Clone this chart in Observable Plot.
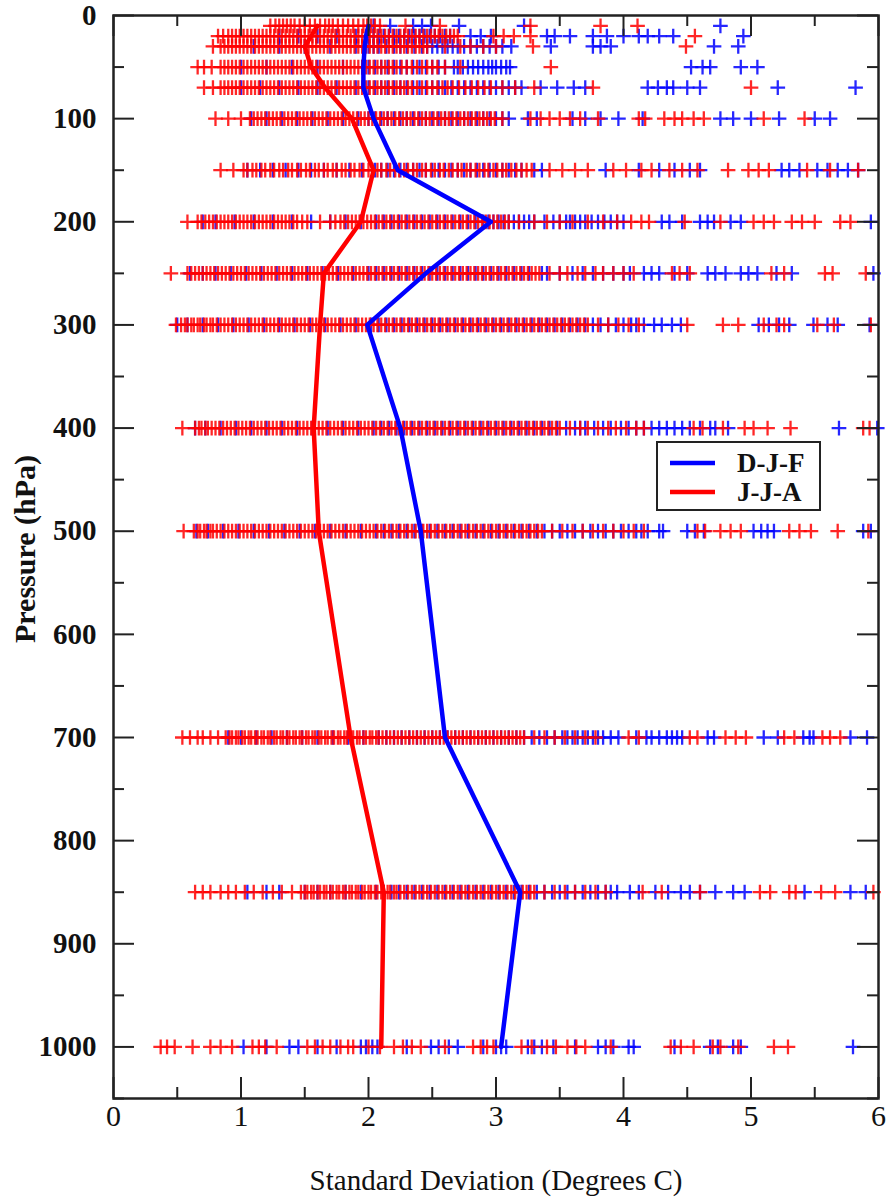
<!DOCTYPE html>
<html><head><meta charset="utf-8">
<script src="https://cdn.jsdelivr.net/npm/d3@7"></script>
<script src="https://cdn.jsdelivr.net/npm/@observablehq/plot@0.6"></script>
<style>body{margin:0;background:#fff} #chart{width:888px;height:1204px}</style>
</head><body><div id="chart"></div>
<script>
const levels = [10, 20, 30, 50, 70, 100, 150, 200, 250, 300, 400, 500, 700, 850, 1000];
const seriesNames = ["D-J-F", "J-J-A"];
const seriesColors = ["#0000ff", "#ff0000"];
const djfMean = [2.0, 1.98, 1.97, 1.96, 1.96, 2.04, 2.23, 2.96, 2.45, 1.99, 2.25, 2.41, 2.6, 3.19, 3.04];
const jjaMean = [1.6, 1.55, 1.5, 1.55, 1.66, 1.87, 2.04, 1.94, 1.65, 1.62, 1.57, 1.61, 1.86, 2.12, 2.10];
const xTicks = [0, 1, 2, 3, 4, 5, 6];
const xMinorTicks = [0.5, 1.5, 2.5, 3.5, 4.5, 5.5];
const yTicks = [0, 100, 200, 300, 400, 500, 600, 700, 800, 900, 1000];
const yMinorTicks = [50, 150, 250, 350, 450, 550, 650, 750, 850, 950, 1050];

// individual station standard deviations, one string per pressure level (same order as levels)
const djfScatter = [
  "2.04 2.17 2.35 2.42 2.49 2.71 3.22 4.76",
  "1.3 1.45 1.6 1.75 1.9 2.0 2.08 2.16 2.24 2.32 2.4 2.48 2.56 2.64 2.8 2.88 2.96 3.4 3.46 3.58 3.76 3.87 4.0 4.12 4.19 4.28 4.39 4.94",
  "1.1 1.3 1.5 1.7 1.9 2.0 2.08 2.2 2.3 2.42 2.5 2.58 2.66 2.75 2.85 2.95 3.05 3.12 3.43 3.76 3.82 3.9 4.71 4.9",
  "1.0 1.2 1.4 1.6 1.8 1.95 2.05 2.15 2.25 2.35 2.45 2.55 2.67 2.74 2.82 2.9 2.97 3.04 3.11 4.53 4.62 4.68 4.92 5.05",
  "1.0 1.15 1.3 1.45 1.6 1.75 1.9 2.0 2.1 2.2 2.3 2.4 2.5 2.6 2.7 2.8 2.9 3.0 3.1 3.2 3.35 3.48 3.61 3.7 4.19 4.27 4.34 4.39 4.5 4.6 5.21 5.82",
  "1.08 1.2 1.32 1.44 1.56 1.68 1.8 1.92 2.0 2.1 2.2 2.3 2.4 2.5 2.6 2.7 2.8 2.9 3.0 3.1 3.25 3.32 3.6 3.7 3.82 3.96 4.15 4.76 4.86 5.0 5.22 5.5 5.62",
  "1.05 1.15 1.25 1.35 1.45 1.55 1.65 1.75 1.85 1.95 2.05 2.15 2.25 2.35 2.45 2.55 2.65 2.75 2.85 2.95 3.05 3.15 3.3 3.36 3.86 4.12 4.28 4.4 4.52 4.6 5.24 5.3 5.38 5.52 5.6 5.68 5.76 5.84",
  "0.7 0.8 0.95 1.1 1.25 1.4 1.55 1.7 1.82 1.94 2.06 2.18 2.3 2.42 2.54 2.66 2.78 2.9 2.98 3.06 3.14 3.22 3.3 3.45 3.55 3.62 3.7 3.8 3.9 4.0 4.3 4.36 4.46 4.6 4.66 4.71 4.84 4.92 5.94",
  "0.6 0.7 0.8 0.92 1.04 1.16 1.28 1.4 1.52 1.64 1.76 1.88 2.0 2.12 2.24 2.36 2.48 2.6 2.72 2.84 2.96 3.08 3.2 3.36 3.4 3.6 3.76 4.05 4.16 4.22 4.28 4.4 4.5 4.66 4.72 4.8 4.92 4.98 5.05 5.2 5.32 5.96",
  "0.5 0.58 0.7 0.82 0.94 1.06 1.18 1.3 1.42 1.54 1.66 1.78 1.9 2.02 2.14 2.26 2.38 2.5 2.62 2.74 2.86 2.98 3.1 3.22 3.34 3.46 3.58 3.7 3.82 3.94 4.06 4.16 4.24 4.3 4.38 4.45 5.06 5.14 5.22 5.3 5.49 5.6 5.68 5.93",
  "0.64 0.72 0.84 0.96 1.08 1.2 1.32 1.44 1.56 1.68 1.8 1.92 2.04 2.16 2.28 2.4 2.52 2.64 2.76 2.88 3.0 3.12 3.24 3.36 3.48 3.62 3.7 3.84 3.98 4.1 4.22 4.28 4.34 4.4 4.46 4.52 4.6 4.68 4.72 4.82 5.69 5.99",
  "0.65 0.74 0.86 0.98 1.1 1.22 1.34 1.46 1.58 1.7 1.82 1.94 2.06 2.18 2.3 2.42 2.54 2.66 2.78 2.9 3.02 3.14 3.26 3.38 3.5 3.62 3.74 3.86 3.98 4.1 4.19 4.28 4.31 4.5 4.56 4.63 5.02 5.08 5.13 5.18 5.88 5.94",
  "0.9 1.0 1.12 1.24 1.36 1.48 1.6 1.72 1.84 1.96 2.08 2.2 2.32 2.44 2.56 2.68 2.8 2.92 3.04 3.16 3.28 3.4 3.52 3.6 3.68 3.76 3.84 3.9 3.96 4.1 4.18 4.22 4.28 4.34 4.38 4.42 4.46 4.66 4.71 5.1 5.21 5.41 5.46 5.49 5.78 5.91",
  "1.05 1.2 1.3 1.5 1.6 1.7 1.82 1.94 2.06 2.18 2.3 2.42 2.54 2.66 2.78 2.9 3.02 3.14 3.26 3.38 3.5 3.62 3.74 3.86 3.95 4.05 4.12 4.25 4.35 4.45 4.52 4.6 4.72 4.86 4.95 5.42 5.78 5.9",
  "1.02 1.2 1.38 1.45 1.6 1.75 1.94 1.98 2.03 2.07 2.3 2.49 2.55 2.63 2.7 2.9 3.0 3.04 3.08 3.25 3.3 3.36 3.45 3.62 3.8 3.86 3.92 4.04 4.08 4.4 4.68 4.74 4.86 4.92 5.8"
];
// further stations inside the densely packed parts of each D-J-F row
const djfDense = [
  "",
  "2.04 2.12 2.2 2.28 2.36 2.44 2.52 2.6",
  "2.04 2.14 2.25 2.36 2.46 2.54 2.62 2.7 2.8 2.9 3.0",
  "2.0 2.1 2.2 2.3 2.4 2.5 2.6 2.7 2.78 2.86 2.94 3.0 3.08",
  "2.05 2.15 2.25 2.35 2.45 2.55 2.65 2.75 2.85 2.95 3.05 3.15",
  "2.05 2.15 2.25 2.35 2.45 2.55 2.65 2.75 2.85 2.95 3.05",
  "2.1 2.2 2.3 2.4 2.5 2.6 2.7 2.8 2.9 3.0 3.1 3.2",
  "2.12 2.24 2.36 2.48 2.6 2.72 2.84 2.94 3.02 3.1 3.18 3.26 3.38 3.5 3.58 3.66 3.75 3.85 3.95",
  "2.06 2.18 2.3 2.42 2.54 2.66 2.78 2.9 3.02 3.14 3.26 3.5 3.68 3.84 3.92 4.0",
  "2.08 2.2 2.32 2.44 2.56 2.68 2.8 2.92 3.04 3.16 3.28 3.4 3.52 3.64 3.76 3.88 4.0 4.1",
  "2.1 2.22 2.34 2.46 2.58 2.7 2.82 2.94 3.06 3.18 3.3 3.42 3.55 3.66 3.77 3.9 4.04 4.16",
  "2.12 2.24 2.36 2.48 2.6 2.72 2.84 2.96 3.08 3.2 3.32 3.44 3.56 3.68 3.8 3.92 4.04 4.14",
  "2.14 2.26 2.38 2.5 2.62 2.74 2.86 2.98 3.1 3.22 3.34 3.46 3.56 3.64 3.72 3.8",
  "2.12 2.24 2.36 2.48 2.6 2.72 2.84 2.96 3.08 3.2 3.32 3.44 3.56 3.68 3.8 3.9",
  ""
];
const jjaScatter = [
  "1.23 1.3 1.36 1.42 1.5 1.58 1.66 1.72 1.8 1.88 1.96 2.02 2.09 2.29 2.56 3.27 3.82 4.11",
  "0.82 0.9 0.96 1.02 1.08 1.14 1.2 1.26 1.32 1.38 1.44 1.5 1.56 1.62 1.68 1.74 1.8 1.86 1.92 1.98 2.04 2.1 2.16 2.22 2.28 2.34 2.4 2.46 2.52 2.58 2.64 2.7 2.98 3.06 3.14 3.27 4.56",
  "0.78 0.84 0.9 0.96 1.02 1.08 1.14 1.2 1.26 1.32 1.38 1.44 1.5 1.56 1.62 1.68 1.74 1.8 1.86 1.92 1.98 2.04 2.1 2.16 2.22 2.28 2.34 2.4 2.46 2.6 2.72 2.8 2.9 3.0 3.29 4.49",
  "0.66 0.71 0.77 0.84 0.9 0.96 1.02 1.08 1.14 1.2 1.26 1.32 1.38 1.44 1.5 1.56 1.62 1.68 1.74 1.8 1.86 1.92 1.98 2.04 2.1 2.16 2.22 2.3 2.38 2.46 2.54 2.6 2.72 3.43",
  "0.71 0.78 0.84 0.9 0.96 1.02 1.08 1.14 1.2 1.26 1.32 1.38 1.44 1.5 1.56 1.62 1.68 1.74 1.8 1.86 1.92 1.98 2.04 2.1 2.16 2.22 2.28 2.34 2.42 2.5 2.58 2.66 2.76 2.86 2.96 3.05 3.15 3.3 3.76 5.0",
  "0.8 0.9 1.0 1.07 1.13 1.19 1.25 1.31 1.37 1.43 1.49 1.55 1.61 1.67 1.73 1.79 1.85 1.91 1.97 2.03 2.09 2.15 2.21 2.27 2.33 2.39 2.45 2.51 2.57 2.63 2.69 2.75 2.81 2.87 2.93 2.99 3.05 3.27 3.35 3.42 3.5 3.58 3.66 3.8 4.12 4.17 4.32 4.4 4.46 4.55 4.63 5.1 5.42",
  "0.84 0.94 1.02 1.09 1.16 1.23 1.3 1.37 1.44 1.51 1.58 1.65 1.72 1.79 1.86 1.93 2.0 2.07 2.14 2.21 2.28 2.35 2.42 2.49 2.56 2.63 2.7 2.77 2.84 2.91 2.98 3.05 3.12 3.2 3.28 3.42 3.52 3.62 3.72 3.92 4.02 4.14 4.22 4.36 4.46 4.58 4.82 4.98 5.06 5.14 5.44 5.62 5.84",
  "0.58 0.66 0.72 0.78 0.84 0.9 0.96 1.02 1.08 1.14 1.2 1.26 1.32 1.38 1.44 1.52 1.62 1.7 1.78 1.84 1.9 1.96 2.02 2.08 2.14 2.2 2.26 2.32 2.38 2.44 2.5 2.56 2.62 2.68 2.74 2.8 2.86 2.92 2.98 3.04 3.1 3.18 3.3 3.4 3.5 3.6 3.72 3.84 3.95 4.06 4.14 4.2 4.48 4.76 5.02 5.1 5.18 5.32 5.4 5.5 5.7 5.78",
  "0.45 0.58 0.64 0.7 0.76 0.82 0.88 0.94 1.0 1.06 1.12 1.18 1.24 1.3 1.36 1.42 1.48 1.54 1.6 1.66 1.72 1.78 1.84 1.9 1.96 2.02 2.08 2.14 2.2 2.26 2.32 2.38 2.44 2.5 2.56 2.62 2.68 2.74 2.8 2.86 2.92 2.98 3.04 3.1 3.16 3.22 3.28 3.34 3.42 3.5 3.56 3.64 3.7 3.78 3.84 3.92 4.0 4.08 4.38 4.44 4.52 5.16 5.26 5.58 5.64 5.9",
  "0.49 0.53 0.58 0.63 0.68 0.73 0.78 0.84 0.9 0.96 1.02 1.08 1.14 1.2 1.26 1.32 1.38 1.44 1.5 1.56 1.62 1.68 1.74 1.8 1.86 1.92 1.98 2.04 2.1 2.16 2.22 2.28 2.34 2.4 2.46 2.52 2.58 2.64 2.7 2.76 2.82 2.88 2.94 3.0 3.06 3.12 3.18 3.24 3.3 3.36 3.42 3.48 3.54 3.6 3.66 3.72 3.8 3.88 3.96 4.04 4.12 4.5 4.78 4.9 5.1 5.2 5.26 5.52 5.65 5.94",
  "0.54 0.64 0.69 0.74 0.8 0.86 0.92 0.98 1.04 1.1 1.16 1.22 1.28 1.34 1.4 1.46 1.52 1.58 1.64 1.7 1.76 1.82 1.88 1.94 2.0 2.06 2.12 2.18 2.24 2.3 2.36 2.42 2.48 2.54 2.6 2.66 2.72 2.78 2.84 2.9 2.96 3.02 3.08 3.14 3.2 3.26 3.32 3.38 3.44 3.5 3.58 3.66 3.72 3.8 3.88 3.94 4.02 4.1 4.16 4.55 4.62 4.78 4.95 5.02 5.13 5.31 5.88 5.93",
  "0.55 0.63 0.68 0.73 0.78 0.84 0.9 0.96 1.02 1.08 1.14 1.2 1.26 1.32 1.38 1.44 1.5 1.56 1.62 1.68 1.74 1.8 1.86 1.92 1.98 2.04 2.1 2.16 2.22 2.28 2.34 2.4 2.46 2.52 2.58 2.64 2.7 2.76 2.82 2.88 2.94 3.0 3.06 3.12 3.18 3.24 3.3 3.36 3.44 3.52 3.6 3.68 3.76 3.84 3.92 4.0 4.08 4.16 4.58 4.64 4.76 4.84 4.92 5.3 5.38 5.47 5.68 5.92",
  "0.54 0.6 0.66 0.7 0.76 0.82 0.88 0.93 0.98 1.03 1.08 1.13 1.18 1.23 1.28 1.33 1.38 1.43 1.48 1.53 1.58 1.63 1.68 1.73 1.78 1.83 1.88 1.93 1.98 2.03 2.08 2.14 2.2 2.26 2.32 2.38 2.44 2.5 2.56 2.62 2.68 2.74 2.8 2.86 2.92 2.98 3.04 3.1 3.16 3.22 3.3 3.38 3.46 3.54 3.62 3.7 3.78 4.04 4.12 4.52 4.58 4.8 4.88 4.96 5.26 5.34 5.56 5.62 5.7",
  "0.64 0.7 0.76 0.84 0.9 0.96 1.03 1.1 1.17 1.25 1.32 1.4 1.47 1.52 1.57 1.62 1.67 1.72 1.77 1.82 1.87 1.92 1.97 2.02 2.07 2.12 2.17 2.22 2.28 2.34 2.4 2.46 2.52 2.58 2.64 2.7 2.76 2.82 2.88 2.94 3.0 3.06 3.12 3.18 3.24 3.3 3.38 3.46 3.54 3.62 3.7 3.78 3.86 4.15 4.3 4.6 5.07 5.15 5.3 5.35 5.55 5.66 5.96",
  "0.37 0.42 0.48 0.62 0.76 0.84 0.93 1.09 1.14 1.19 1.28 1.52 1.58 1.64 1.7 1.78 1.84 1.88 2.0 2.09 2.2 2.27 2.34 2.41 2.6 2.82 2.88 2.93 2.98 3.2 3.28 3.4 3.47 3.56 3.63 3.7 3.9 4.37 4.45 4.55 4.7 4.76 4.9 5.18 5.29"
];
// further stations inside the densely packed parts of each J-J-A row
const jjaDense = [
  "1.27 1.33 1.39 1.46 1.54 1.62 1.69 1.76 1.84 1.92 1.99 2.05",
  "0.86 0.93 0.99 1.05 1.11 1.17 1.23 1.29 1.35 1.41 1.47 1.53 1.59 1.65 1.71 1.77 1.83 1.89 1.95 2.01 2.07 2.13 2.19 2.25 2.31 2.37 2.43 2.49 2.55 2.61 2.67",
  "0.87 0.93 0.99 1.05 1.11 1.17 1.23 1.29 1.35 1.41 1.47 1.53 1.59 1.65 1.71 1.77 1.83 1.89 1.95 2.01 2.07 2.13 2.19 2.25 2.31 2.37 2.43",
  "0.87 0.93 0.99 1.05 1.11 1.17 1.23 1.29 1.35 1.41 1.47 1.53 1.59 1.65 1.71 1.77 1.83 1.89 1.95 2.01 2.07 2.13 2.19 2.26 2.34 2.42 2.5",
  "0.87 0.93 0.99 1.05 1.11 1.17 1.23 1.29 1.35 1.41 1.47 1.53 1.59 1.65 1.71 1.77 1.83 1.89 1.95 2.01 2.07 2.13 2.19 2.25 2.31 2.38 2.46 2.54 2.62 2.71 2.81 2.91",
  "1.1 1.16 1.22 1.28 1.34 1.4 1.46 1.52 1.58 1.64 1.7 1.76 1.82 1.88 1.94 2.0 2.06 2.12 2.18 2.24 2.3 2.36 2.42 2.48 2.54 2.6 2.66 2.72 2.78 2.84 2.9 2.96",
  "1.05 1.12 1.19 1.26 1.33 1.4 1.47 1.54 1.61 1.68 1.75 1.82 1.89 1.96 2.03 2.1 2.17 2.24 2.31 2.38 2.45 2.52 2.59 2.66 2.73 2.8 2.87 2.94 3.01 3.08 3.16 3.24",
  "0.69 0.75 0.81 0.87 0.93 0.99 1.05 1.11 1.17 1.23 1.29 1.35 1.41 1.48 1.74 1.81 1.87 1.93 1.99 2.05 2.11 2.17 2.23 2.29 2.35 2.41 2.47 2.53 2.59 2.65 2.71 2.77 2.83 2.89 2.95 3.01 3.07",
  "0.61 0.67 0.73 0.79 0.85 0.91 0.97 1.03 1.09 1.15 1.21 1.27 1.33 1.39 1.45 1.51 1.57 1.63 1.69 1.75 1.81 1.87 1.93 1.99 2.05 2.11 2.17 2.23 2.29 2.35 2.41 2.47 2.53 2.59 2.65 2.71 2.77 2.83 2.89 2.95 3.01 3.07 3.13 3.19 3.25 3.31",
  "0.56 0.61 0.66 0.71 0.76 0.81 0.87 0.93 0.99 1.05 1.11 1.17 1.23 1.29 1.35 1.41 1.47 1.53 1.59 1.65 1.71 1.77 1.83 1.89 1.95 2.01 2.07 2.13 2.19 2.25 2.31 2.37 2.43 2.49 2.55 2.61 2.67 2.73 2.79 2.85 2.91 2.97 3.03 3.09 3.15 3.21 3.27 3.33 3.39 3.45 3.51 3.57 3.63 3.69",
  "0.67 0.72 0.77 0.83 0.89 0.95 1.01 1.07 1.13 1.19 1.25 1.31 1.37 1.43 1.49 1.55 1.61 1.67 1.73 1.79 1.85 1.91 1.97 2.03 2.09 2.15 2.21 2.27 2.33 2.39 2.45 2.51 2.57 2.63 2.69 2.75 2.81 2.87 2.93 2.99 3.05 3.11 3.17 3.23 3.29 3.35 3.41 3.47",
  "0.66 0.71 0.76 0.81 0.87 0.93 0.99 1.05 1.11 1.17 1.23 1.29 1.35 1.41 1.47 1.53 1.59 1.65 1.71 1.77 1.83 1.89 1.95 2.01 2.07 2.13 2.19 2.25 2.31 2.37 2.43 2.49 2.55 2.61 2.67 2.73 2.79 2.85 2.91 2.97 3.03 3.09 3.15 3.21 3.27 3.33",
  "0.91 0.96 1.01 1.06 1.11 1.16 1.21 1.26 1.31 1.36 1.41 1.46 1.51 1.56 1.61 1.66 1.71 1.76 1.81 1.86 1.91 1.96 2.01 2.06 2.11 2.17 2.23 2.29 2.35 2.41 2.47 2.53 2.59 2.65 2.71 2.77 2.83 2.89 2.95 3.01 3.07 3.13 3.19",
  "1.5 1.55 1.6 1.65 1.7 1.75 1.8 1.85 1.9 1.95 2.0 2.05 2.1 2.15 2.2 2.25 2.31 2.37 2.43 2.49 2.55 2.61 2.67 2.73 2.79 2.85 2.91 2.97 3.03 3.09 3.15 3.21 3.27",
  ""
];

const toPoints = (rows, extra) => levels.flatMap((p, i) =>
  (rows[i] + " " + extra[i]).trim().split(/\s+/).map(Number).map(v => ({p, v})));
const djfPts = toPoints(djfScatter, djfDense);
const jjaPts = toPoints(jjaScatter, jjaDense);
const djfLine = levels.map((p, i) => ({p, v: djfMean[i]}));
const jjaLine = levels.map((p, i) => ({p, v: jjaMean[i]}));

const W = 888, H = 1204, mL = 113, mR = 10, mT = 15, mB = 106;
const fw = W - mL - mR, fh = H - mT - mB;
const serif = "'Liberation Serif', 'DejaVu Serif', serif";
const axisColor = "#222";

const plot = Plot.plot({
  width: W, height: H,
  marginLeft: mL, marginRight: mR, marginTop: mT, marginBottom: mB,
  x: {domain: [0, 6]},
  y: {domain: [0, 1050], reverse: true},
  style: {background: "white", fontFamily: serif, color: "#111"},
  marks: [
    Plot.dot(djfPts, {x: "v", y: "p", symbol: "plus", r: 4.8, stroke: seriesColors[0], strokeWidth: 2.3, strokeOpacity: 0.85}),
    Plot.dot(jjaPts, {x: "v", y: "p", symbol: "plus", r: 4.8, stroke: seriesColors[1], strokeWidth: 2.3, strokeOpacity: 0.85}),
    Plot.line(jjaLine, {x: "v", y: "p", stroke: seriesColors[1], strokeWidth: 4.5}),
    Plot.line(djfLine, {x: "v", y: "p", stroke: seriesColors[0], strokeWidth: 4.5}),
    // inward ticks on all four sides
    Plot.tickX(xTicks, {x: d => d, insetTop: fh - 21, stroke: axisColor, strokeWidth: 2}),
    Plot.tickX(xTicks, {x: d => d, insetBottom: fh - 21, stroke: axisColor, strokeWidth: 2}),
    Plot.tickX(xMinorTicks, {x: d => d, insetTop: fh - 11, stroke: axisColor, strokeWidth: 2}),
    Plot.tickX(xMinorTicks, {x: d => d, insetBottom: fh - 11, stroke: axisColor, strokeWidth: 2}),
    Plot.tickY(yTicks, {y: d => d, insetRight: fw - 21, stroke: axisColor, strokeWidth: 2}),
    Plot.tickY(yTicks, {y: d => d, insetLeft: fw - 21, stroke: axisColor, strokeWidth: 2}),
    Plot.tickY(yMinorTicks, {y: d => d, insetRight: fw - 11, stroke: axisColor, strokeWidth: 2}),
    Plot.tickY(yMinorTicks, {y: d => d, insetLeft: fw - 11, stroke: axisColor, strokeWidth: 2}),
    Plot.frame({stroke: axisColor, strokeWidth: 2.5}),
    Plot.axisX({ticks: xTicks, tickSize: 0, tickPadding: 6, fontSize: 30, label: null, tickFormat: d => String(d)}),
    Plot.axisY({ticks: yTicks, tickSize: 0, tickPadding: 17, fontSize: 29, fontWeight: "bold", label: null, tickFormat: d => String(d)}),
    Plot.text(["Standard Deviation (Degrees C)"], {text: d => d, frameAnchor: "bottom", dy: 91, fontSize: 29}),
    Plot.text(["Pressure (hPa)"], {text: d => d, frameAnchor: "left", textAnchor: "middle", dx: -88, dy: -8, rotate: -90, fontSize: 30, fontWeight: "bold"})
  ]
});

// legend inside the plot area
const svg = d3.select(plot);
const lg = svg.append("g").attr("font-family", serif).attr("text-anchor", "start");
lg.append("rect").attr("x", 657).attr("y", 442).attr("width", 163).attr("height", 68)
  .attr("fill", "white").attr("stroke", axisColor).attr("stroke-width", 2);
seriesNames.forEach((name, i) => {
  const yy = 463 + i * 29;
  lg.append("line").attr("x1", 670).attr("x2", 715).attr("y1", yy).attr("y2", yy)
    .attr("stroke", seriesColors[i]).attr("stroke-width", 4.5);
  lg.append("text").attr("x", 737).attr("y", yy).attr("dy", "0.35em").attr("text-anchor", "start")
    .attr("font-size", 27).attr("font-weight", "bold").attr("fill", "#111").text(name);
});

document.getElementById("chart").appendChild(plot);
</script>
</body></html>
